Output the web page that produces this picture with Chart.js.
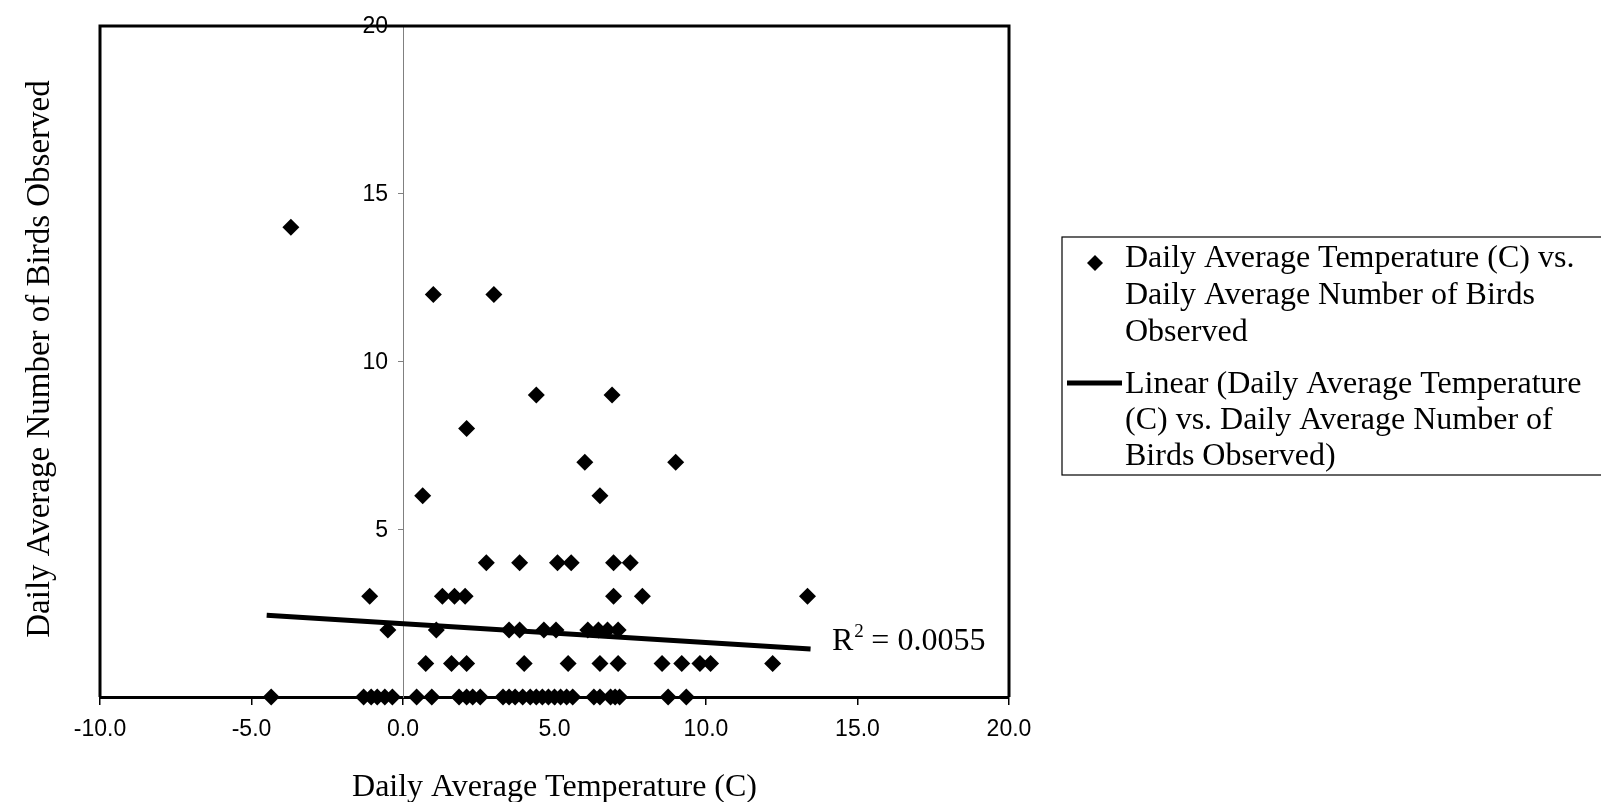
<!DOCTYPE html>
<html>
<head>
<meta charset="utf-8">
<script src="https://cdn.jsdelivr.net/npm/chart.js@4.4.1/dist/chart.umd.min.js"></script>
<style>
  html, body { margin:0; padding:0; background:#fff; }
  #wrap { width:1601px; height:802px; position:relative; }
</style>
</head>
<body>
<div id="wrap"><canvas id="c" width="1601" height="802"></canvas></div>
<script>
// ── 데이터 ───────────────────────────────────────────
const tempC = [
  -3.7,
  1.0, 3.0,
  4.4, 6.9,
  2.1,
  6.0, 9.0,
  0.65, 6.5,
  2.75, 3.85, 5.1, 5.55, 6.95, 7.5,
  -1.1, 1.3, 1.7, 2.05, 6.95, 7.9, 13.35,
  -0.5, 1.1, 3.5, 3.85, 4.65, 5.05, 6.1, 6.45, 6.75, 7.1,
  0.75, 1.6, 2.1, 4.0, 5.45, 6.5, 7.1, 8.55, 9.2, 9.8, 10.15, 12.2,
  -4.35, -1.3, -1.05, -0.85, -0.6, -0.35, 0.45, 0.95, 1.85, 2.1, 2.3, 2.55,
  3.3, 3.5, 3.7, 3.95, 4.2, 4.4, 4.6, 4.8, 5.0, 5.2, 5.4, 5.6,
  6.3, 6.5, 6.85, 7.0, 7.15, 8.75, 9.35
];
const birds = [
  14,
  12, 12,
  9, 9,
  8,
  7, 7,
  6, 6,
  4, 4, 4, 4, 4, 4,
  3, 3, 3, 3, 3, 3, 3,
  2, 2, 2, 2, 2, 2, 2, 2, 2, 2,
  1, 1, 1, 1, 1, 1, 1, 1, 1, 1, 1, 1,
  0, 0, 0, 0, 0, 0, 0, 0, 0, 0, 0, 0,
  0, 0, 0, 0, 0, 0, 0, 0, 0, 0, 0, 0,
  0, 0, 0, 0, 0, 0, 0
];
// 추세선 양 끝
const trendX = [-4.5, 13.45];
const trendY = [2.44, 1.43];

const xTicks = [-10, -5, 0, 5, 10, 15, 20];
const yTicks = [0, 5, 10, 15, 20];
const yLabels = ["", "5", "10", "15", "20"];

const xTitle = "Daily Average Temperature (C)";
const yTitle = "Daily Average Number of Birds Observed";
const rSquared = "0.0055";
const legendScatter = ["Daily Average Temperature (C) vs.", "Daily Average Number of Birds", "Observed"];
const legendTrend = ["Linear (Daily Average Temperature", "(C) vs. Daily Average Number of", "Birds Observed)"];

// ── 글꼴 ─────────────────────────────────────────────
const SERIF = "'Liberation Serif','Times New Roman',serif";
const SANS  = "'Liberation Sans',Arial,sans-serif";

// ── 테두리 / 제목 / 범례 플러그인 ──────────────────────
const decorPlugin = {
  id: "decor",
  afterDraw(c) {
    const { ctx, chartArea: a, scales } = c;
    ctx.save();
    // 플롯 테두리 (왼쪽, 위, 오른쪽)
    ctx.strokeStyle = "#000"; ctx.lineWidth = 3;
    ctx.beginPath();
    ctx.moveTo(a.left, a.bottom); ctx.lineTo(a.left, a.top);
    ctx.lineTo(a.right, a.top); ctx.lineTo(a.right, a.bottom);
    ctx.stroke();

    // y 눈금 라벨 (x=0 축 왼쪽)
    ctx.fillStyle = "#000";
    ctx.font = "23px " + SANS;
    ctx.textAlign = "right"; ctx.textBaseline = "middle";
    const ax0 = scales.x.getPixelForValue(0);
    yTicks.forEach((v, i) => ctx.fillText(yLabels[i], ax0 - 15, scales.y.getPixelForValue(v) + 1));

    // 축 제목
    ctx.textAlign = "center";
    ctx.font = "32px " + SERIF;
    ctx.fillText(xTitle, (a.left + a.right) / 2, 788);
    ctx.save();
    ctx.translate(40, 359);
    ctx.rotate(-Math.PI / 2);
    ctx.font = "33px " + SERIF;
    ctx.fillText(yTitle, 0, 0);
    ctx.restore();

    // R² 라벨
    ctx.textAlign = "left"; ctx.textBaseline = "alphabetic";
    ctx.font = "32px " + SERIF;
    ctx.fillText("R", 832, 650);
    const rw = ctx.measureText("R").width;
    ctx.font = "19px " + SERIF;
    ctx.fillText("2", 832 + rw + 1, 637);
    ctx.font = "32px " + SERIF;
    ctx.fillText(" = " + rSquared, 832 + rw + 10, 650);

    // 범례
    ctx.lineWidth = 1.2;
    ctx.strokeRect(1062, 237, 580, 238);
    ctx.beginPath();
    ctx.moveTo(1095, 255); ctx.lineTo(1103, 263); ctx.lineTo(1095, 271); ctx.lineTo(1087, 263);
    ctx.closePath(); ctx.fill();
    ctx.lineWidth = 5;
    ctx.beginPath(); ctx.moveTo(1067, 383); ctx.lineTo(1122, 383); ctx.stroke();
    ctx.font = "32px " + SERIF;
    ctx.textBaseline = "middle";
    legendScatter.forEach((t, i) => ctx.fillText(t, 1125, 259 + i * 37));
    legendTrend.forEach((t, i) => ctx.fillText(t, 1125, 385 + i * 36));
    ctx.restore();
  }
};

// ── 차트 ─────────────────────────────────────────────
new Chart(document.getElementById("c").getContext("2d"), {
  type: "scatter",
  data: {
    datasets: [
      {
        label: "points",
        data: tempC.map((x, i) => ({ x, y: birds[i] })),
        pointStyle: "rectRot", pointRadius: 8.5, pointHoverRadius: 8.5,
        backgroundColor: "#000", borderColor: "#000", borderWidth: 0,
        clip: false,
      },
      {
        label: "trend",
        type: "line",
        data: trendX.map((x, i) => ({ x, y: trendY[i] })),
        borderColor: "#000", borderWidth: 5, pointRadius: 0, fill: false,
      },
    ]
  },
  options: {
    responsive: false, animation: false,
    layout: { padding: { left: 100, top: 26, right: 592, bottom: 0 } },
    plugins: { legend: { display: false }, tooltip: { enabled: false } },
    scales: {
      x: {
        type: "linear", min: -10, max: 20,
        afterBuildTicks: (ax) => { ax.ticks = xTicks.map(v => ({ value: v })); },
        afterFit: (ax) => { ax.height = 105; },
        ticks: { color: "#000", font: { family: SANS, size: 23 }, padding: 11,
                 maxRotation: 0, callback: (v) => Number(v).toFixed(1) },
        grid: { drawOnChartArea: false, tickLength: 8, color: "#000", lineWidth: 1.5 },
        border: { color: "#000", width: 3 },
      },
      y: {
        type: "linear", min: 0, max: 20,
        position: { x: 0 },
        afterBuildTicks: (ax) => { ax.ticks = yTicks.map(v => ({ value: v })); },
        ticks: { display: false },
        grid: { drawOnChartArea: false, tickLength: 5, color: "#808080", lineWidth: 1 },
        border: { color: "#808080", width: 1 },
      },
    },
  },
  plugins: [decorPlugin],
});
</script>
</body>
</html>
